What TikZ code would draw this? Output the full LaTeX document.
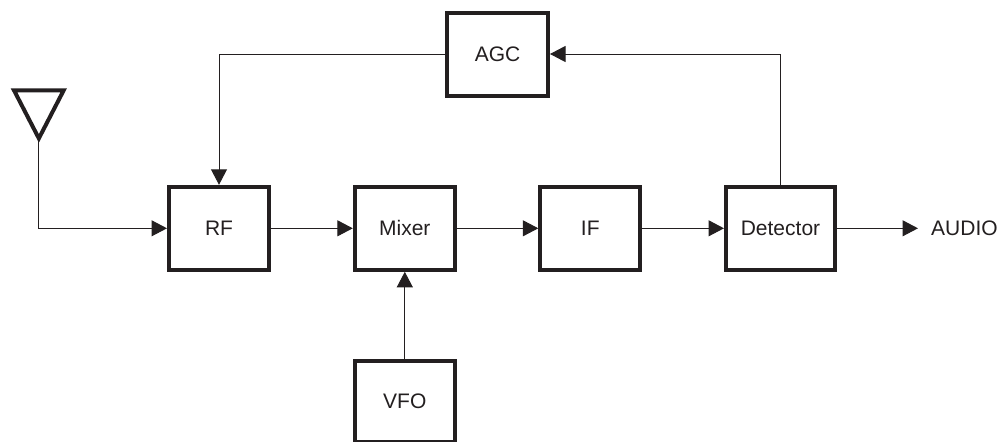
\documentclass[tikz,border=0pt]{standalone}
\usepackage{fontspec}
\setmainfont{Liberation Sans}
\usetikzlibrary{arrows.meta}
\definecolor{ink}{HTML}{231F20}
\tikzset{
  blockbox/.style={draw=ink,line width=4pt,fill=white,minimum width=100pt,minimum height=83pt,inner sep=0pt,text=ink,font=\fontsize{21}{24}\selectfont},
  wire/.style={draw=ink,line width=1pt},
  flow/.style={wire,-{Triangle[length=15.5pt,width=16pt]}},
  antenna/.style={draw=ink,line width=4pt,miter limit=10,line join=miter}
}
\begin{document}
\begin{tikzpicture}[x=1pt,y=-1pt]
\useasboundingbox (0,0) rectangle (997,442);
\node[blockbox] (rf) at (219,228.3) {RF};
\node[blockbox] (mixer) at (404.8,228.3) {Mixer};
\node[blockbox] (if) at (590.3,228.3) {IF};
\node[blockbox,minimum width=109pt] (det) at (780.5,228.3) {Detector};
\node[blockbox,minimum width=101pt] (agc) at (497.5,54) {AGC};
\node[blockbox,minimum height=81pt] (vfo) at (404.8,401) {VFO};
\node[anchor=west,inner sep=0pt,text=ink,font=\fontsize{21}{24}\selectfont] (audio) at (931,228.3) {AUDIO};
\coordinate (anttl) at (14,90.3);
\coordinate (anttr) at (63.7,90.3);
\coordinate (antb) at (38.85,138.4);
\coordinate (antout) at (38.85,141);
\draw[antenna] (anttl) -- (anttr) -- (antb) -- cycle;
\draw[flow] (antout) |- (rf.west);
\draw[flow] (rf) -- (mixer);
\draw[flow] (mixer) -- (if);
\draw[flow] (if) -- (det);
\draw[flow,shorten >=13pt] (det) -- (audio);
\draw[flow] (vfo) -- (mixer);
\draw[flow] (agc.west) -| (rf.north);
\draw[flow] (det.north) |- (agc.east);
\end{tikzpicture}
\end{document}
